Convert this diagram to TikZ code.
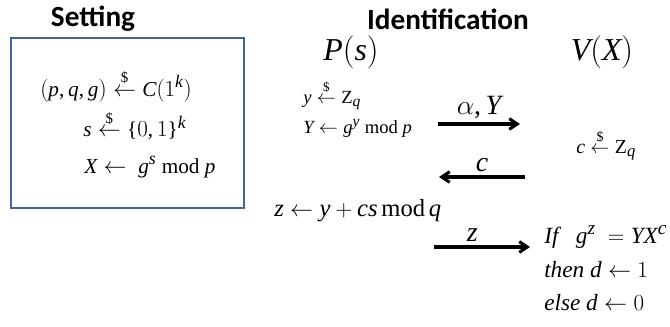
\documentclass[tikz,border=0pt]{standalone}
\usepackage{fontspec,amsmath,amssymb}
\setmainfont{Liberation Serif}
\usepackage[italic]{mathastext}
\newfontfamily\headfont{Carlito}
\usetikzlibrary{arrows.meta,positioning,calc}
\definecolor{frameblue}{HTML}{44659A}
\newcommand{\rndget}{\mathrel{\overset{\scriptscriptstyle\$\vrule depth 2pt width 0pt}{\leftarrow}}}
\tikzset{head/.style={font=\headfont\bfseries\fontsize{22}{26}\selectfont,inner sep=0pt},frm/.style={inner sep=0pt,anchor=west,font=\fontsize{16}{19}\selectfont},sml/.style={frm,font=\fontsize{14}{17}\selectfont},party/.style={inner sep=0pt,font=\fontsize{24}{28}\selectfont},msg/.style={-{Straight Barb[length=6pt,width=8pt]},line width=2.3pt},lbl/.style={above=3pt,inner sep=0pt,font=\fontsize{21}{25}\selectfont}}

\begin{document}
\begin{tikzpicture}[x=0.02646cm,y=-0.02646cm]
\useasboundingbox (0,0) rectangle (670,327);
\node[head] (setting) at (93,19) {Setting};
\node[head] (ident) at (448,19) {Identification};
\draw[frameblue,line width=2.2pt] (11,38) rectangle (244,208);
\node[frm] (keygen) at (40,86) {$(p,q,g)\rndget C(1^{k})$};
\node[frm] (secret) at (83,125) {$s\rndget\{0,1\}^{k}$};
\node[frm] (pubkey) at (84,167) {$X\leftarrow\ g^{s}\ \mathrm{mod}\ p$};
\node[party] (prover) at (351,52) {$P(s)$};
\node[party] (verifier) at (602,52) {$V(X)$};
\node[sml] (pick) at (303,95) {$y\rndget\mathrm{Z}_{q}$};
\node[sml] (commit) at (303,128) {$Y\leftarrow g^{y}\ \mathrm{mod}\ p$};
\node[sml,font=\fontsize{15}{18}\selectfont] (chal) at (576,145) {$c\rndget\mathrm{Z}_{q}$};
\node[frm,font=\fontsize{18.5}{22}\selectfont] (resp) at (274,211) {$z\leftarrow y+cs\,\mathrm{mod}\,q$};
\node[frm,font=\fontsize{17.5}{21}\selectfont] (chk1) at (544,237) {$\textit{If}\ \ \ g^{z}\ =YX^{c}$};
\node[frm,font=\fontsize{17.5}{21}\selectfont] (chk2) at (544,270) {$\textit{then}\ d\leftarrow 1$};
\node[frm,font=\fontsize{17.5}{21}\selectfont] (chk3) at (544,303) {$\textit{else}\ d\leftarrow 0$};
\coordinate (m1a) at (438,124); \coordinate (m1b) at (520,124);
\coordinate (m2a) at (525,177); \coordinate (m2b) at (439,177);
\coordinate (m3a) at (434,247); \coordinate (m3b) at (530,247);
\draw[msg] (m1a)--(m1b) node[midway,lbl] {$\alpha,Y$};
\draw[msg] (m2a)--(m2b) node[midway,lbl] {$c$};
\draw[msg] (m3a)--(m3b) node[pos=.4,lbl] {$z$};
\end{tikzpicture}
\end{document}
